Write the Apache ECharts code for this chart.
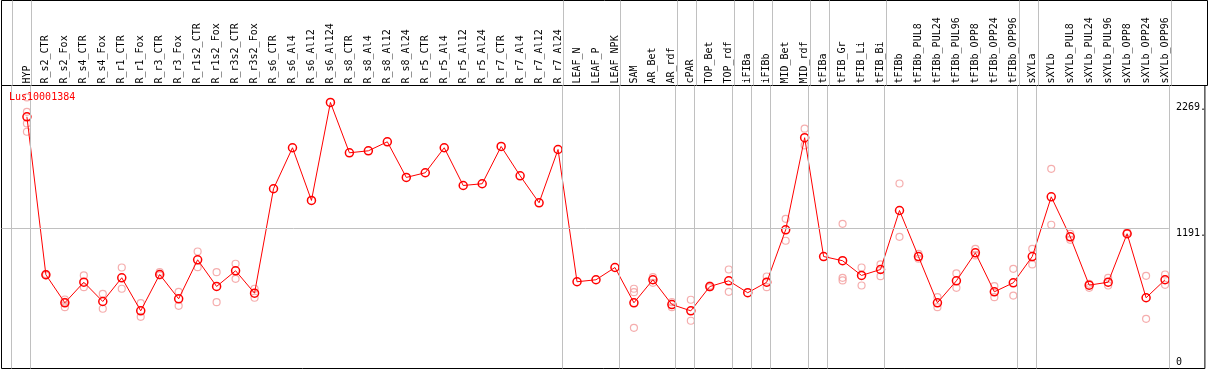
<!DOCTYPE html>
<html><head><meta charset="utf-8">
<script src="https://cdn.jsdelivr.net/npm/echarts@6/dist/echarts.min.js"></script>
<style>html,body{margin:0;padding:0;background:#fff}#c{width:1209px;height:370px}</style>
</head><body><div id="c"></div>
<script>
const geneName = 'Lus10001384';
const categories = ['HYP','R_s2_CTR','R_s2_Fox','R_s4_CTR','R_s4_Fox','R_r1_CTR','R_r1_Fox','R_r3_CTR','R_r3_Fox','R_r1s2_CTR','R_r1s2_Fox','R_r3s2_CTR','R_r3s2_Fox','R_s6_CTR','R_s6_Al4','R_s6_Al12','R_s6_Al124','R_s8_CTR','R_s8_Al4','R_s8_Al12','R_s8_Al24','R_r5_CTR','R_r5_Al4','R_r5_Al12','R_r5_Al24','R_r7_CTR','R_r7_Al4','R_r7_Al12','R_r7_Al24','LEAF_N','LEAF_P','LEAF_NPK','SAM','AR_Bet','AR_rdf','cPAR','TOP_Bet','TOP_rdf','iFIBa','iFIBb','MID_Bet','MID_rdf','tFIBa','tFIB_Gr','tFIB_Li','tFIB_Bi','tFIBb','tFIBb_PUL8','tFIBb_PUL24','tFIBb_PUL96','tFIBb_OPP8','tFIBb_OPP24','tFIBb_OPP96','sXYLa','sXYLb','sXYLb_PUL8','sXYLb_PUL24','sXYLb_PUL96','sXYLb_OPP8','sXYLb_OPP24','sXYLb_OPP96'];
const means = [2146,794,554,730,565,768,485,796,588,922,694,828,636,1530,1881,1430,2269,1838,1855,1932,1627,1667,1881,1558,1573,1892,1641,1410,1866,734,751,856,554,751,539,485,693,742,640,730,1179,1967,950,914,788,839,1344,950,554,742,982,648,725,950,1461,1119,705,730,1145,597,751];
const replicates = [
 [2312,2189,2089,2018],[800,788],[582,563,516],[788,688],[631,503],[856,674],[551,434],[816,788],[648,528],[993,859],[816,559],[888,759],[674,597],
 [],[],[],[],[],[],[],[],[],[],[],[],[],[],[],[],[],[],[],
 [674,645,340],[773,725],[559,516],[580,400],[700,686],[839,648],[],[779,688],[1273,1085],[2044,1901],[],
 [1230,768,745],[856,702],[882,782],[1575,1119],[973,931],[602,516],[805,682],[1016,959],[696,602],[845,616],
 [1016,882],[1701,1222],[1145,1093],[717,682],[768,702],[1158,1145],[785,417],[796,708]
];
const groupEnds = [-1,0,28,31,34,35,37,38,39,41,42,45,52,53,60];
const yLabelsTop = [1191,2269];
const yLabelsBottom = [0];
const refLine = 1191;

const X_MIN = -1.34, X_MAX = 62.10, Y_MIN = -8.6, Y_MAX = 2414;
const FONT = 'DejaVu Sans Mono';
const sepData = groupEnds.map(b => ({xAxis: b + 0.2}));
const repData = [];
replicates.forEach((arr, i) => arr.forEach(v => repData.push([i, v])));

const chart = echarts.init(document.getElementById('c'), null, {renderer: 'canvas'});
chart.setOption({
  animation: false,
  backgroundColor: '#fff',
  title: {text: geneName, left: 9, top: 92, padding: 0,
    textStyle: {color: '#ff0000', fontSize: 10, fontWeight: 'normal', fontFamily: FONT}},
  grid: [
    {left: 1.5, right: 1.5, top: 0.5, height: 85, show: true, borderColor: '#000', borderWidth: 1, backgroundColor: 'transparent'},
    {left: 1.5, right: 1.5, top: 85.5, bottom: 1.5, show: true, borderColor: '#000', borderWidth: 1, backgroundColor: 'transparent'}
  ],
  xAxis: [
    {gridIndex: 0, type: 'value', min: X_MIN, max: X_MAX, show: false},
    {gridIndex: 1, type: 'value', min: X_MIN, max: X_MAX, position: 'top',
     axisLine: {show: false}, axisTick: {show: false}, splitLine: {show: false},
     axisLabel: {customValues: categories.map((c, i) => i), rotate: 90, margin: 2,
       formatter: v => categories[Math.round(v)] || '', color: '#000', fontSize: 10, fontFamily: FONT}}
  ],
  yAxis: [
    {gridIndex: 0, type: 'value', min: 0, max: 1, show: false},
    {gridIndex: 1, type: 'value', min: Y_MIN, max: Y_MAX, position: 'right',
     axisLine: {show: false}, axisTick: {show: false}, splitLine: {show: false},
     axisLabel: {customValues: yLabelsTop, inside: true, align: 'left', verticalAlign: 'top', margin: 29,
       formatter: v => v + '.', color: '#000', fontSize: 10, fontFamily: FONT}},
    {gridIndex: 1, type: 'value', min: Y_MIN, max: Y_MAX, position: 'right',
     axisLine: {show: false}, axisTick: {show: false}, splitLine: {show: false},
     axisLabel: {customValues: yLabelsBottom, inside: true, align: 'left', verticalAlign: 'bottom', margin: 29,
       formatter: v => String(v), color: '#000', fontSize: 10, fontFamily: FONT}}
  ],
  series: [
    {type: 'scatter', xAxisIndex: 0, yAxisIndex: 0, data: [[0, -5]], symbolSize: 0, silent: true,
     markLine: {silent: true, symbol: 'none', label: {show: false}, animation: false,
       lineStyle: {color: '#c0c0c0', width: 1, type: 'solid'}, data: sepData}},
    {type: 'scatter', xAxisIndex: 1, yAxisIndex: 1, data: [[0, -100]], symbolSize: 0, silent: true, z: 1,
     markLine: {silent: true, symbol: 'none', label: {show: false}, animation: false,
       lineStyle: {color: '#c0c0c0', width: 1, type: 'solid'},
       data: sepData.concat([[{coord: [X_MIN, refLine]}, {coord: [60.2, refLine]}]])}},
    {type: 'scatter', xAxisIndex: 1, yAxisIndex: 1, data: repData, symbol: 'circle', symbolSize: 7, z: 2,
     itemStyle: {color: 'rgba(0,0,0,0)', borderColor: '#f29a9a', borderWidth: 1.2}},
    {type: 'line', xAxisIndex: 1, yAxisIndex: 1, data: means.map((v, i) => [i, v]), z: 3,
     symbol: 'circle', symbolSize: 8, showAllSymbol: true,
     lineStyle: {color: '#ff0000', width: 1},
     itemStyle: {color: 'rgba(0,0,0,0)', borderColor: '#ff0000', borderWidth: 1.5}}
  ]
});
</script></body></html>
